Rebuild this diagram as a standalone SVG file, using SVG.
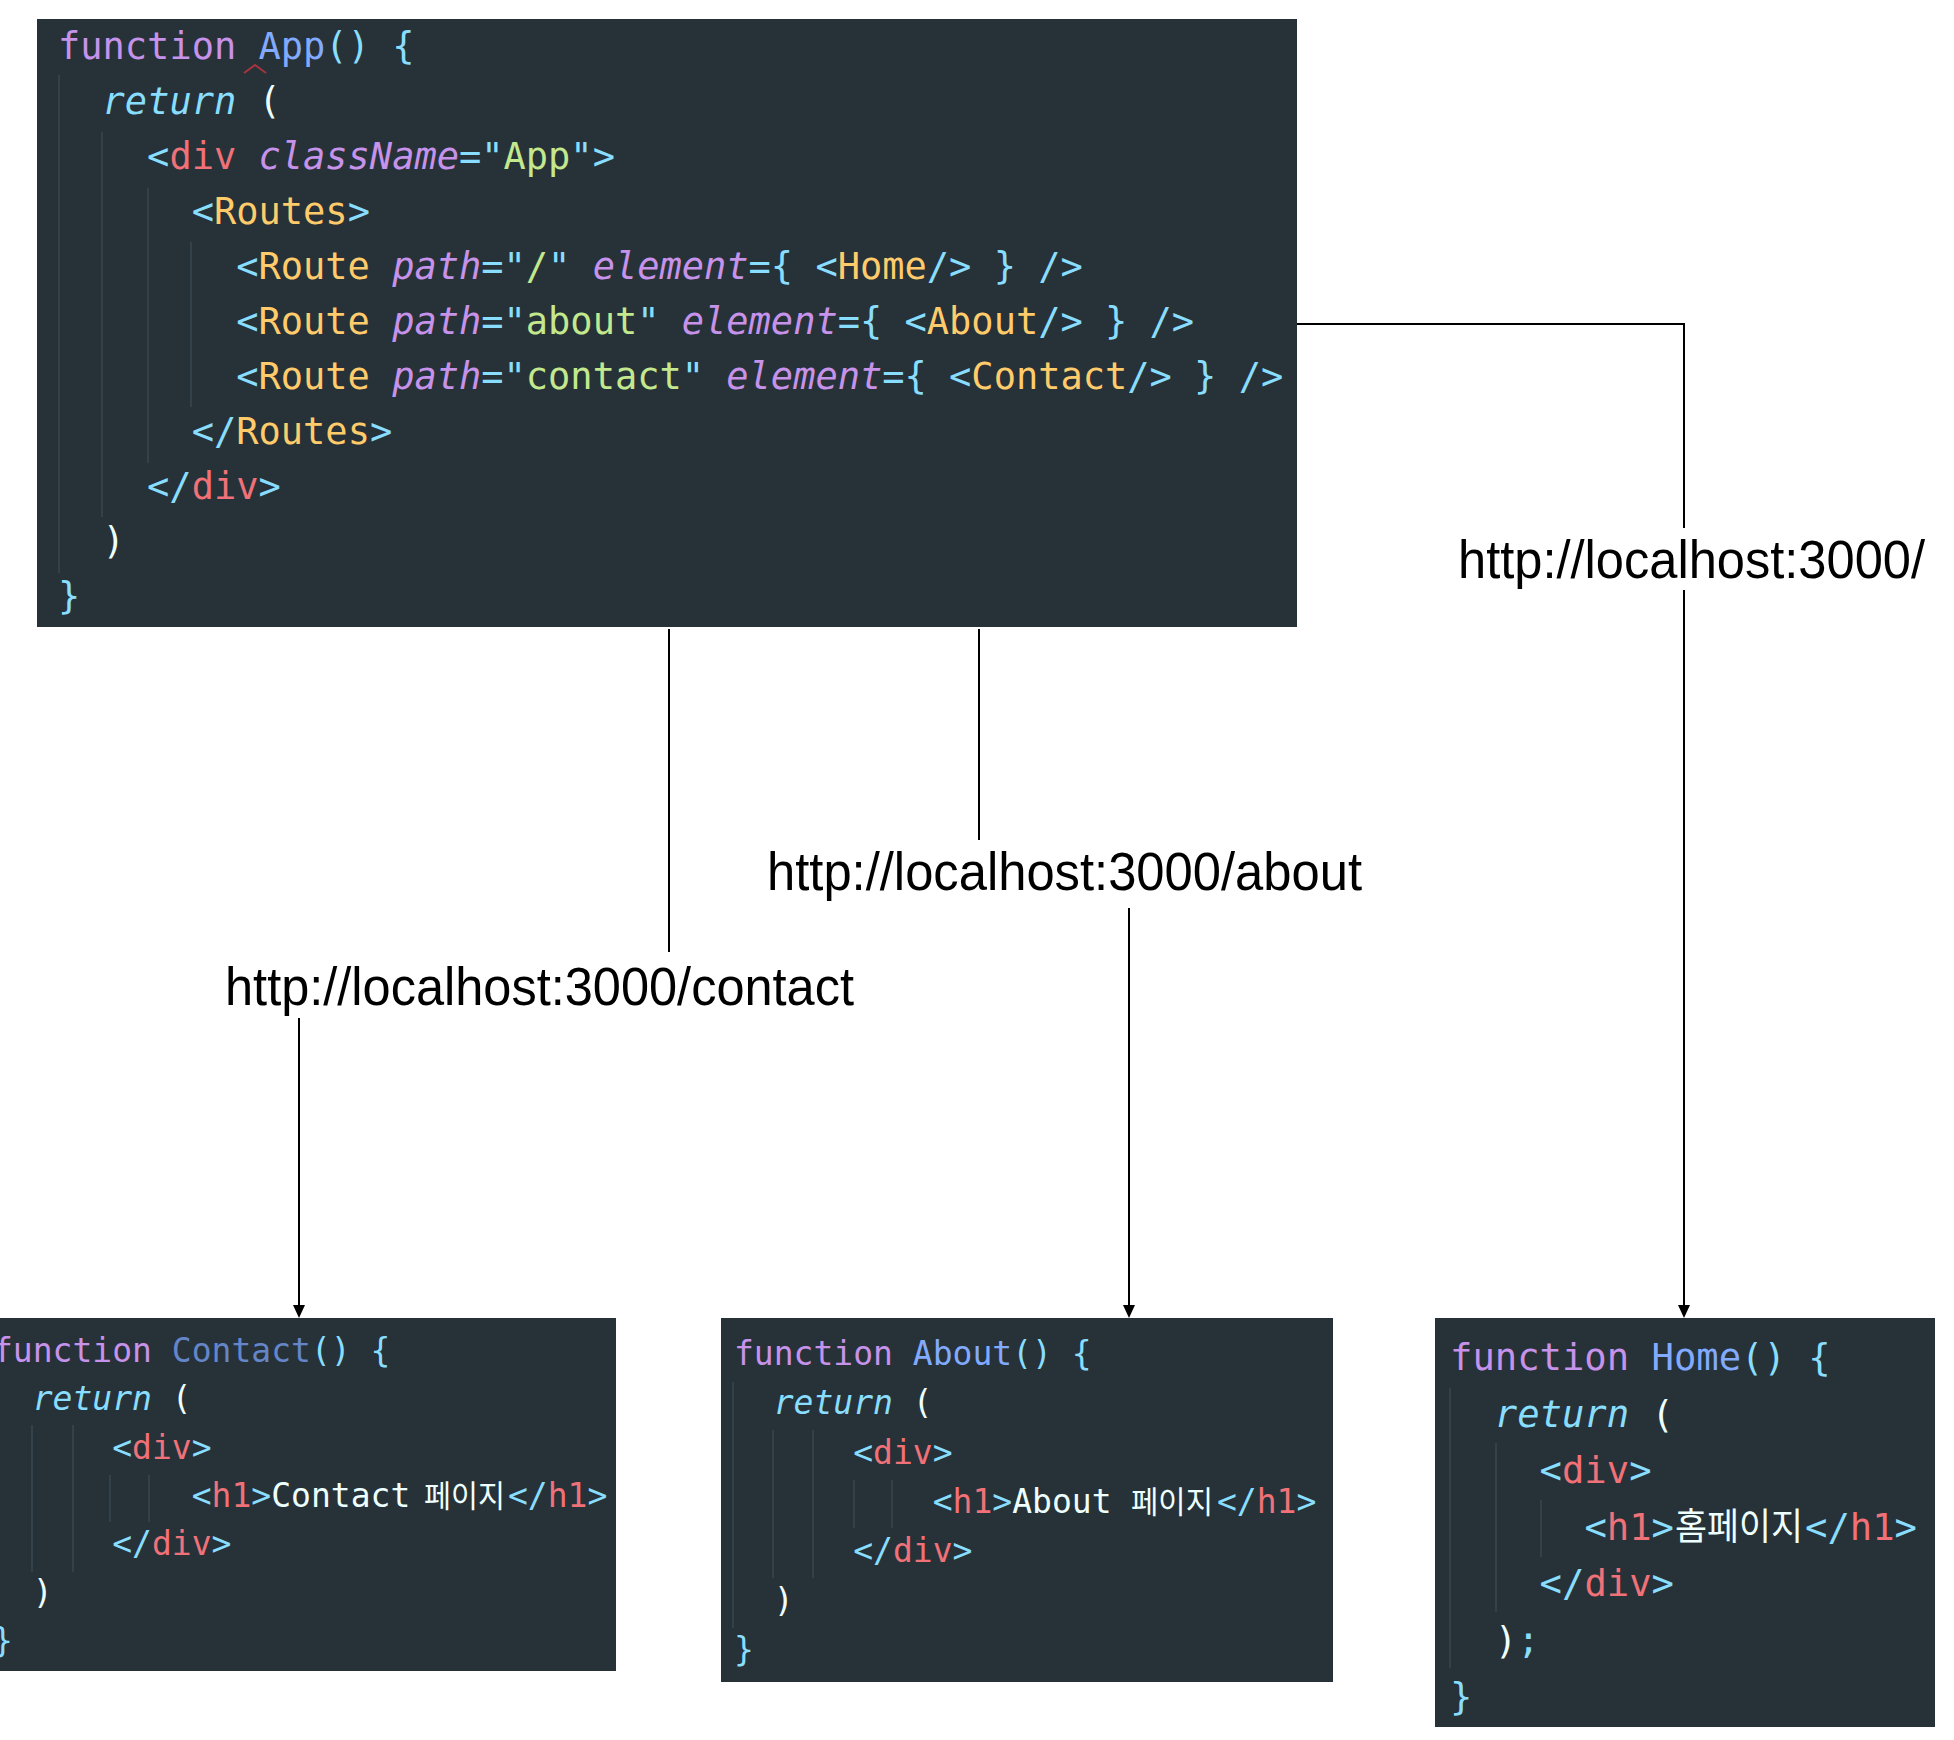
<svg xmlns="http://www.w3.org/2000/svg" width="1954" height="1740" viewBox="0 0 1954 1740">
<style>
.bg{fill:#263238}
.code{font-family:"DejaVu Sans Mono","Noto Sans CJK KR",monospace;white-space:pre}
.m{font-size:37px}
.s{font-size:33px}
.h{font-size:37.2px}
.kw{fill:#c792ea}
.fn{fill:#82aaff}
.fn2{fill:#6585c9}
.pu{fill:#89ddff}
.it{font-style:italic}
.tag{fill:#f07178}
.cmp{fill:#ffcb6b}
.str{fill:#c3e88d}
.tx{fill:#eeffff}
.ko{font-family:"Noto Sans CJK KR",sans-serif;fill:#eeffff}
.guide{stroke:#33424a;stroke-width:2}
.edge{fill:none;stroke:#000;stroke-width:2}
.lblbg{fill:#fff}
.lbl{font-family:"Liberation Sans",Arial,Helvetica,sans-serif;font-size:54px;fill:#000;text-anchor:middle}
</style>
<defs>
<marker id="arr" markerUnits="userSpaceOnUse" markerWidth="14" markerHeight="12" refX="0" refY="6" orient="auto">
<path d="M0,0 L13,6 L0,12 z" fill="#000"/>
</marker>
</defs>
<rect width="1954" height="1740" fill="#fff"/>

<g id="connectors">
<path class="edge" d="M669,629 V985 H299 V1305" marker-end="url(#arr)"/>
<path class="edge" d="M979,629 V874 H1129 V1305" marker-end="url(#arr)"/>
<path class="edge" d="M1297,324 H1684 V1305" marker-end="url(#arr)"/>
<g id="label-contact">
<rect class="lblbg" x="222" y="952" width="636" height="66"/>
<text class="lbl" x="539.5" y="1005" textLength="629" lengthAdjust="spacingAndGlyphs">http://localhost:3000/contact</text>
</g>
<g id="label-about">
<rect class="lblbg" x="764" y="840" width="602" height="68"/>
<text class="lbl" x="1064.5" y="890" textLength="595" lengthAdjust="spacingAndGlyphs">http://localhost:3000/about</text>
</g>
<g id="label-home">
<rect class="lblbg" x="1455" y="528" width="474" height="62"/>
<text class="lbl" x="1691.5" y="578" textLength="467" lengthAdjust="spacingAndGlyphs">http://localhost:3000/</text>
</g>
</g>

<g id="node-app">
<rect class="bg" x="37" y="19" width="1260" height="608"/>
<line class="guide" x1="59" y1="75" x2="59" y2="573"/>
<line class="guide" x1="102" y1="132" x2="102" y2="517"/>
<line class="guide" x1="148" y1="188" x2="148" y2="463"/>
<line class="guide" x1="191" y1="242" x2="191" y2="407"/>
<path d="M244,73 L255,65 L266,73" fill="none" stroke="#a8343f" stroke-width="2"/>
<text class="code m" x="58" y="59"><tspan class="kw">function</tspan> <tspan class="fn">App</tspan><tspan class="pu">()</tspan> <tspan class="pu">{</tspan></text>
<text class="code m" x="102.6" y="114"><tspan class="pu it">return</tspan> <tspan class="tx">(</tspan></text>
<text class="code m" x="147.1" y="169"><tspan class="pu">&lt;</tspan><tspan class="tag">div</tspan> <tspan class="kw it">className</tspan><tspan class="pu">="</tspan><tspan class="str">App</tspan><tspan class="pu">"&gt;</tspan></text>
<text class="code m" x="191.7" y="224"><tspan class="pu">&lt;</tspan><tspan class="cmp">Routes</tspan><tspan class="pu">&gt;</tspan></text>
<text class="code m" x="236.2" y="279"><tspan class="pu">&lt;</tspan><tspan class="cmp">Route</tspan> <tspan class="kw it">path</tspan><tspan class="pu">="</tspan><tspan class="str">/</tspan><tspan class="pu">"</tspan> <tspan class="kw it">element</tspan><tspan class="pu">={ &lt;</tspan><tspan class="cmp">Home</tspan><tspan class="pu">/&gt; } /&gt;</tspan></text>
<text class="code m" x="236.2" y="334"><tspan class="pu">&lt;</tspan><tspan class="cmp">Route</tspan> <tspan class="kw it">path</tspan><tspan class="pu">="</tspan><tspan class="str">about</tspan><tspan class="pu">"</tspan> <tspan class="kw it">element</tspan><tspan class="pu">={ &lt;</tspan><tspan class="cmp">About</tspan><tspan class="pu">/&gt; } /&gt;</tspan></text>
<text class="code m" x="236.2" y="389"><tspan class="pu">&lt;</tspan><tspan class="cmp">Route</tspan> <tspan class="kw it">path</tspan><tspan class="pu">="</tspan><tspan class="str">contact</tspan><tspan class="pu">"</tspan> <tspan class="kw it">element</tspan><tspan class="pu">={ &lt;</tspan><tspan class="cmp">Contact</tspan><tspan class="pu">/&gt; } /&gt;</tspan></text>
<text class="code m" x="191.7" y="444"><tspan class="pu">&lt;/</tspan><tspan class="cmp">Routes</tspan><tspan class="pu">&gt;</tspan></text>
<text class="code m" x="147.1" y="499"><tspan class="pu">&lt;/</tspan><tspan class="tag">div</tspan><tspan class="pu">&gt;</tspan></text>
<text class="code m tx" x="102.6" y="554">)</text>
<text class="code m pu" x="58" y="609">}</text>
</g>

<g id="node-contact">
<rect class="bg" x="0" y="1318" width="616" height="353"/>
<line class="guide" x1="32" y1="1425" x2="32" y2="1572"/>
<line class="guide" x1="73" y1="1425" x2="73" y2="1572"/>
<line class="guide" x1="110" y1="1475" x2="110" y2="1522"/>
<line class="guide" x1="149" y1="1475" x2="149" y2="1522"/>
<text class="code s" x="-7" y="1362"><tspan class="kw">function</tspan> <tspan class="fn2">Contact</tspan><tspan class="pu">()</tspan> <tspan class="pu">{</tspan></text>
<text class="code s" x="32.7" y="1410"><tspan class="pu it">return</tspan> <tspan class="tx">(</tspan></text>
<text class="code s" x="112.2" y="1459"><tspan class="pu">&lt;</tspan><tspan class="tag">div</tspan><tspan class="pu">&gt;</tspan></text>
<text class="code s" x="191.7" y="1507"><tspan class="pu">&lt;</tspan><tspan class="tag">h1</tspan><tspan class="pu">&gt;</tspan><tspan class="tx">Contact</tspan></text>
<text class="ko" x="424" y="1507" font-size="31" textLength="81" lengthAdjust="spacingAndGlyphs">페이지</text>
<text class="code s" x="508" y="1507"><tspan class="pu">&lt;/</tspan><tspan class="tag">h1</tspan><tspan class="pu">&gt;</tspan></text>
<text class="code s" x="112.2" y="1555"><tspan class="pu">&lt;/</tspan><tspan class="tag">div</tspan><tspan class="pu">&gt;</tspan></text>
<text class="code s tx" x="32.7" y="1604">)</text>
<text class="code s pu" x="-7" y="1652">}</text>
</g>

<g id="node-about">
<rect class="bg" x="721" y="1318" width="612" height="364"/>
<line class="guide" x1="733" y1="1382" x2="733" y2="1628"/>
<line class="guide" x1="773" y1="1430" x2="773" y2="1578"/>
<line class="guide" x1="813" y1="1430" x2="813" y2="1578"/>
<line class="guide" x1="854" y1="1480" x2="854" y2="1528"/>
<line class="guide" x1="892" y1="1480" x2="892" y2="1528"/>
<text class="code s" x="734" y="1365"><tspan class="kw">function</tspan> <tspan class="fn">About</tspan><tspan class="pu">()</tspan> <tspan class="pu">{</tspan></text>
<text class="code s" x="773.7" y="1414"><tspan class="pu it">return</tspan> <tspan class="tx">(</tspan></text>
<text class="code s" x="853.2" y="1464"><tspan class="pu">&lt;</tspan><tspan class="tag">div</tspan><tspan class="pu">&gt;</tspan></text>
<text class="code s" x="932.7" y="1513"><tspan class="pu">&lt;</tspan><tspan class="tag">h1</tspan><tspan class="pu">&gt;</tspan><tspan class="tx">About</tspan></text>
<text class="ko" x="1131" y="1513" font-size="31" textLength="82" lengthAdjust="spacingAndGlyphs">페이지</text>
<text class="code s" x="1217" y="1513"><tspan class="pu">&lt;/</tspan><tspan class="tag">h1</tspan><tspan class="pu">&gt;</tspan></text>
<text class="code s" x="853.2" y="1562"><tspan class="pu">&lt;/</tspan><tspan class="tag">div</tspan><tspan class="pu">&gt;</tspan></text>
<text class="code s tx" x="773.7" y="1612">)</text>
<text class="code s pu" x="734" y="1661">}</text>
</g>

<g id="node-home">
<rect class="bg" x="1435" y="1318" width="500" height="409"/>
<line class="guide" x1="1450" y1="1388" x2="1450" y2="1668"/>
<line class="guide" x1="1496" y1="1443" x2="1496" y2="1612"/>
<line class="guide" x1="1541" y1="1500" x2="1541" y2="1557"/>
<text class="code h" x="1450" y="1370"><tspan class="kw">function</tspan> <tspan class="fn">Home</tspan><tspan class="pu">()</tspan> <tspan class="pu">{</tspan></text>
<text class="code h" x="1494.8" y="1426.5"><tspan class="pu it">return</tspan> <tspan class="tx">(</tspan></text>
<text class="code h" x="1539.6" y="1483"><tspan class="pu">&lt;</tspan><tspan class="tag">div</tspan><tspan class="pu">&gt;</tspan></text>
<text class="code h" x="1584.4" y="1539.5"><tspan class="pu">&lt;</tspan><tspan class="tag">h1</tspan><tspan class="pu">&gt;</tspan></text>
<text class="ko" x="1675" y="1539.5" font-size="37" textLength="128" lengthAdjust="spacingAndGlyphs">홈페이지</text>
<text class="code h" x="1805" y="1539.5"><tspan class="pu">&lt;/</tspan><tspan class="tag">h1</tspan><tspan class="pu">&gt;</tspan></text>
<text class="code h" x="1539.6" y="1596"><tspan class="pu">&lt;/</tspan><tspan class="tag">div</tspan><tspan class="pu">&gt;</tspan></text>
<text class="code h" x="1494.8" y="1652.5"><tspan class="tx">)</tspan><tspan class="pu">;</tspan></text>
<text class="code h pu" x="1450" y="1709">}</text>
</g>
</svg>
